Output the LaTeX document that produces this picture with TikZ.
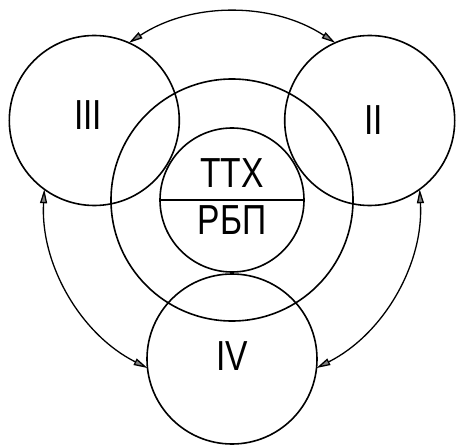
\documentclass[tikz,border=0pt]{standalone}
\usepackage{fontspec}
\setmainfont{Liberation Sans}
\usepackage{graphicx}
\usetikzlibrary{arrows.meta,shapes.multipart}

\newcommand{\narrowtext}[1]{\scalebox{0.8}[1]{#1}}

\begin{document}
\begin{tikzpicture}[x=1pt,y=1pt,line width=1.6pt,
	part/.style={draw,circle,minimum size=170pt,inner sep=0pt,outer sep=0pt,font=\fontsize{42}{42}\selectfont},
	link/.style={line width=1.3pt,{Triangle[length=14pt,width=7pt,fill=gray]}-{Triangle[length=14pt,width=7pt,fill=gray]}}]
		\useasboundingbox (-232,-244) rectangle (225,200);
		\coordinate (o) at (0,0);
		\node[draw,circle,minimum size=242pt,inner sep=0pt] (ring) at (o) {};
		\node[draw,circle split,minimum size=144pt,inner sep=5pt,font=\fontsize{42}{42}\selectfont] (core) at (o)
			{\raisebox{7pt}{\narrowtext{ТТХ}}\nodepart{lower}\narrowtext{РБП}};
		\node[part] (III) at (150:159) {\hspace*{-12pt}\raisebox{10pt}{\narrowtext{III}}};
		\node[part] (II) at (30:159) {\narrowtext{II}\hspace*{-8pt}};
		\node[part] (IV) at (270:159) {\raisebox{6pt}{\narrowtext{IV}}};
		%
		\draw[link] (III.66) arc[start angle=123.3,end angle=56.7,radius=188];
		\draw[link] (III.234) arc[start angle=176.7,end angle=243.3,radius=188];
		\draw[link] (II.306) arc[start angle=3.3,end angle=-63.3,radius=188];
\end{tikzpicture}
\end{document}
